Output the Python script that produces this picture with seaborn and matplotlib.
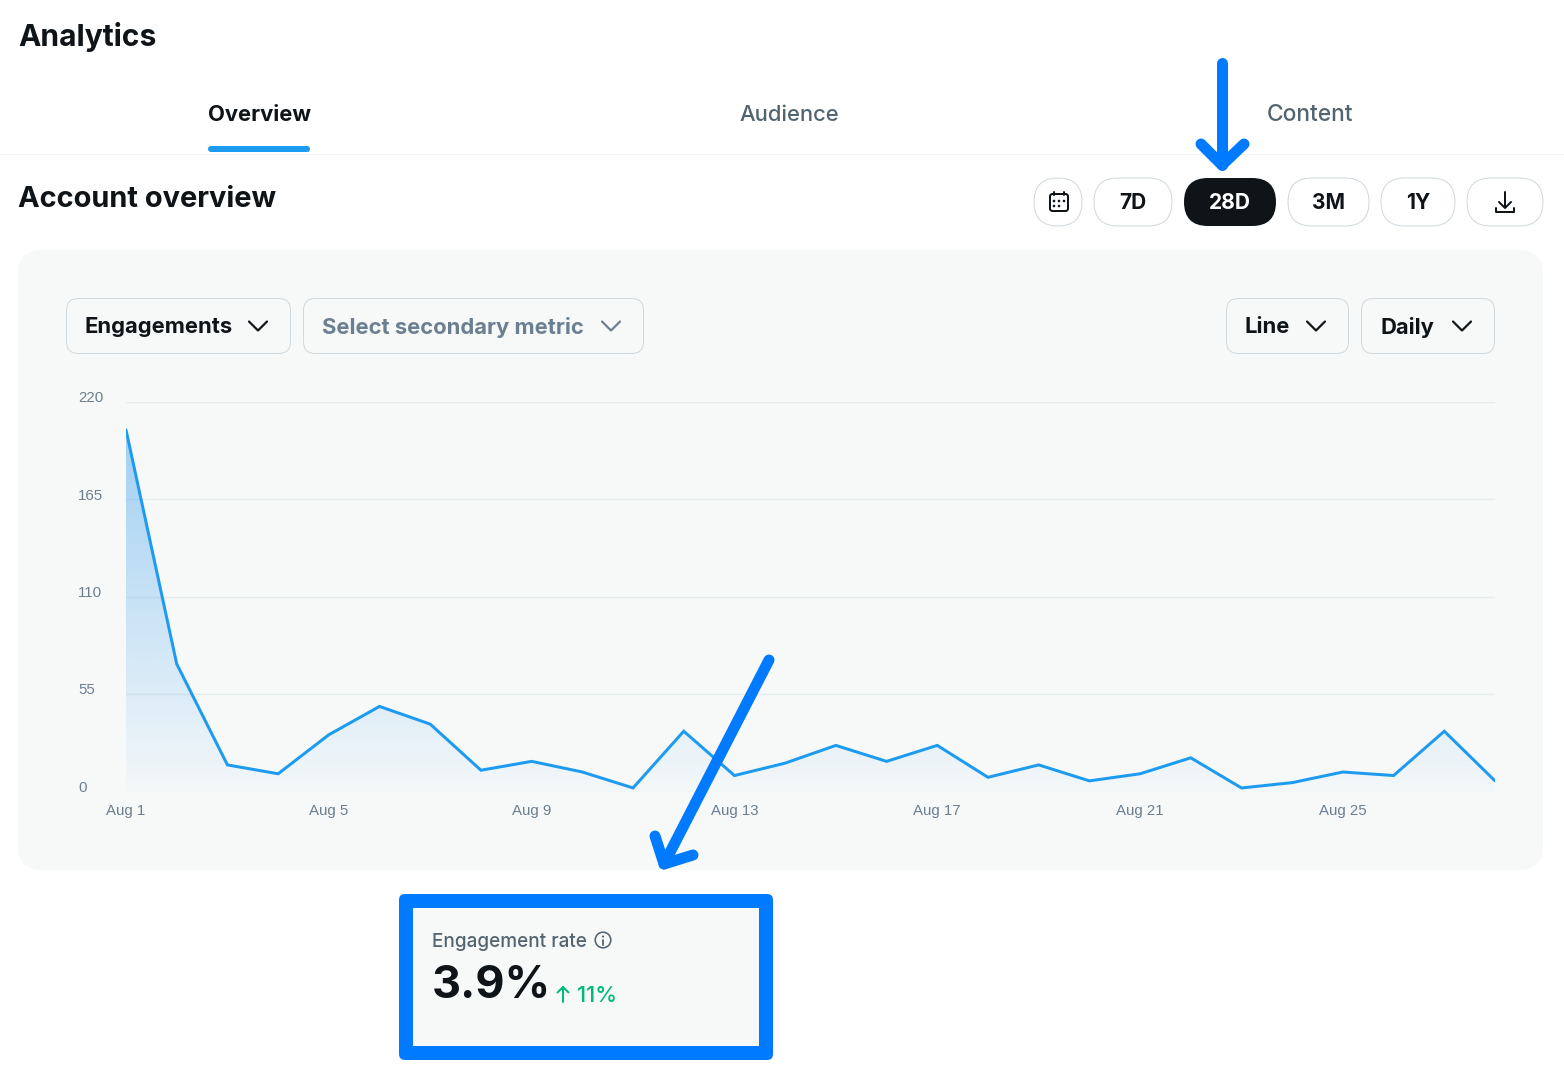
import numpy as np
import matplotlib
matplotlib.use('Agg')
import matplotlib.pyplot as plt
from matplotlib.patches import FancyBboxPatch, Circle
from matplotlib.transforms import ScaledTranslation
import seaborn as sns

days = [1, 2, 3, 4, 5, 6, 7, 8, 9, 10, 11, 12, 13, 14,
        15, 16, 17, 18, 19, 20, 21, 22, 23, 24, 25, 26, 27, 28]
engagements = [204, 72, 15, 10, 32, 48, 38, 12, 17, 11, 2, 34, 9, 16,
               26, 17, 26, 8, 15, 6, 10, 19, 2, 5, 11, 9, 34, 6]
y_ticks = [0, 55, 110, 165, 220]
x_ticks = [1, 5, 9, 13, 17, 21, 25]
x_labels = ['Aug 1', 'Aug 5', 'Aug 9', 'Aug 13', 'Aug 17', 'Aug 21', 'Aug 25']

W, H = 1564, 1068
BLUE = '#1d9bf0'
MARK = '#007aff'
INK = '#0f1419'
SLATE = '#536471'
MUTED = '#6b7f90'
BORDER = '#cfd9de'
PANEL = '#f7f9f9'
GREEN = '#00ba7c'

sns.set_theme(style='white')
plt.rcParams['font.family'] = ['Inter', 'DejaVu Sans']

fig = plt.figure(figsize=(W / 100, H / 100), dpi=100, facecolor='white')


def pixel_axes(z):
    a = fig.add_axes([0, 0, 1, 1], zorder=z)
    a.set_xlim(0, W)
    a.set_ylim(H, 0)
    a.axis('off')
    a.patch.set_alpha(0)
    return a


def px(n):
    # pixels to points
    return n * 0.72


def box(a, x0, y0, x1, y1, r, fc='none', ec='none', lw=1.0, z=1):
    p = FancyBboxPatch((x0, y0), x1 - x0, y1 - y0,
                       boxstyle='round,pad=0,rounding_size=%s' % r,
                       fc=fc, ec=ec, lw=px(lw), zorder=z)
    a.add_patch(p)


def label(a, x, y, s, size, color=INK, weight='normal', ha='left'):
    # va=center sits a bit high for these fonts
    a.text(x, y + size * 0.09, s, fontsize=px(size), color=color, fontweight=weight,
           ha=ha, va='center')


def stroke(a, xs, ys, color, width, z=3):
    a.plot(xs, ys, color=color, lw=px(width), solid_capstyle='round',
           solid_joinstyle='round', zorder=z)


def chevron(a, cx, cy, color):
    stroke(a, [cx - 9, cx, cx + 9], [cy - 4.5, cy + 4.5, cy - 4.5], color, 2.2)


bg = pixel_axes(0)

# header
label(bg, 18, 34, 'Analytics', 30, weight='bold')
label(bg, 208, 113, 'Overview', 22, weight='bold')
label(bg, 739, 113, 'Audience', 22, color=SLATE, weight='medium')
label(bg, 1267, 113, 'Content', 22.7, color=SLATE, weight='medium')
bg.plot([0, W], [153.5, 153.5], color='#eff3f4', lw=px(1))
box(bg, 208, 146, 310, 152, 3, fc=BLUE)
label(bg, 18, 197, 'Account overview', 29, weight='bold')

# range buttons
for x0, x1, txt in [(1094, 1172, '7D'), (1288, 1369, '3M'), (1381, 1455, '1Y')]:
    box(bg, x0, 178, x1, 226, 24, fc='white', ec=BORDER)
    label(bg, (x0 + x1) / 2, 201, txt, 21, weight='bold', ha='center')
box(bg, 1184, 178, 1276, 226, 24, fc=INK)
label(bg, 1230, 201, '28D', 21, color='white', weight='bold', ha='center')
box(bg, 1034, 178, 1082, 226, 24, fc='white', ec=BORDER)
box(bg, 1467, 178, 1543, 226, 24, fc='white', ec=BORDER)

# calendar icon
box(bg, 1050, 194, 1068, 211, 2.5, ec=INK, lw=2, z=3)
bg.plot([1054, 1054], [192, 195], color=INK, lw=px(2), zorder=3)
bg.plot([1064, 1064], [192, 195], color=INK, lw=px(2), zorder=3)
for dx, dy in [(1054, 201), (1059, 201), (1064, 201), (1054, 206), (1059, 206)]:
    bg.add_patch(Circle((dx, dy), 1.3, fc=INK, ec='none', zorder=3))

# download icon
stroke(bg, [1505, 1505], [192, 207], INK, 2)
stroke(bg, [1499, 1505, 1511], [202, 208, 202], INK, 2)
stroke(bg, [1496, 1496, 1514, 1514], [208, 212, 212, 208], INK, 2)

# chart panel
box(bg, 18, 250, 1543, 870, 24, fc=PANEL)
dropdowns = [(66, 291, 85, 258, 'Engagements', INK),
             (303, 644, 322, 611, 'Select secondary metric', MUTED),
             (1226, 1349, 1245, 1316, 'Line', INK),
             (1361, 1495, 1380, 1462, 'Daily', INK)]
for x0, x1, tx, cx, txt, col in dropdowns:
    box(bg, x0 + 0.5, 298.5, x1 - 0.5, 353.5, 12, ec=BORDER)
    label(bg, tx, 325.5, txt, 22, color=col, weight='bold')
    chevron(bg, cx, 326, col)

# chart itself
ax = fig.add_axes([126 / W, 1 - 791.5 / H, (1495 - 126) / W, (791.5 - 401.5) / H], zorder=1)
ax.patch.set_alpha(0)
ax.set_axisbelow(True)
ax.grid(axis='y', color='#e6ecec', lw=px(1.4))
ax.grid(axis='x', visible=False)
sns.despine(ax=ax, left=True, bottom=True, top=True, right=True)

area = ax.fill_between(days, engagements, 0, color='none')
fade = np.zeros((256, 1, 4))
fade[..., 0] = 40 / 255
fade[..., 1] = 150 / 255
fade[..., 2] = 235 / 255
fade[..., 3] = np.linspace(0.42, 0.02, 256)[:, None]
img = ax.imshow(fade, extent=(1, 28, 0, 204), aspect='auto', zorder=1.5)
img.set_clip_path(area.get_paths()[0], transform=ax.transData)

sns.lineplot(x=days, y=engagements, color=BLUE, linewidth=px(3), ax=ax,
             zorder=2, solid_joinstyle='miter')
ax.set_xlim(1, 28)
ax.set_ylim(0, 220)
ax.set_xlabel('')
ax.set_ylabel('')
ax.set_yticks(y_ticks)
ax.set_yticklabels([str(v) for v in y_ticks])
ax.set_xticks(x_ticks)
ax.set_xticklabels(x_labels)
ax.tick_params(axis='both', length=0, labelsize=px(15), labelcolor=MUTED)
ax.tick_params(axis='x', pad=px(13))
ax.tick_params(axis='y', pad=px(48))
up = ScaledTranslation(0, 5 / 100, fig.dpi_scale_trans)
for t in ax.get_yticklabels():
    t.set_ha('left')
    t.set_fontfamily(['Liberation Sans', 'DejaVu Sans'])
    t.set_transform(t.get_transform() + up)
for t in ax.get_xticklabels():
    t.set_fontfamily(['Liberation Sans', 'DejaVu Sans'])

top = pixel_axes(2)

# highlighted stat card
box(top, 399, 894, 773, 1060, 6, fc=MARK, z=1)
top.fill_between([413, 759], 908, 1046, color=PANEL, lw=0, zorder=1.5)
label(top, 432, 940, 'Engagement rate', 19, color=SLATE, weight='medium')
top.add_patch(Circle((603, 940), 7.8, fc='none', ec=SLATE, lw=px(1.6), zorder=3))
top.add_patch(Circle((603, 936.5), 1.1, fc=SLATE, ec='none', zorder=3))
top.plot([603, 603], [939.5, 945], color=SLATE, lw=px(1.8), zorder=3)
label(top, 432, 982, '3.9%', 45, weight='bold')
stroke(top, [563, 563], [987, 1002], GREEN, 2)
stroke(top, [557.5, 563, 568.5], [992.5, 987, 992.5], GREEN, 2)
label(top, 577, 994, '11%', 22, color=GREEN, weight='medium')

# annotation arrows
stroke(top, [1222, 1222], [63, 165], MARK, 11, z=4)
stroke(top, [1201, 1222, 1244], [144, 165, 144], MARK, 11, z=4)
stroke(top, [769, 664], [660, 864], MARK, 11, z=4)
stroke(top, [655, 664, 693], [836, 864, 855], MARK, 11, z=4)

fig.savefig('out.png', dpi=100)
